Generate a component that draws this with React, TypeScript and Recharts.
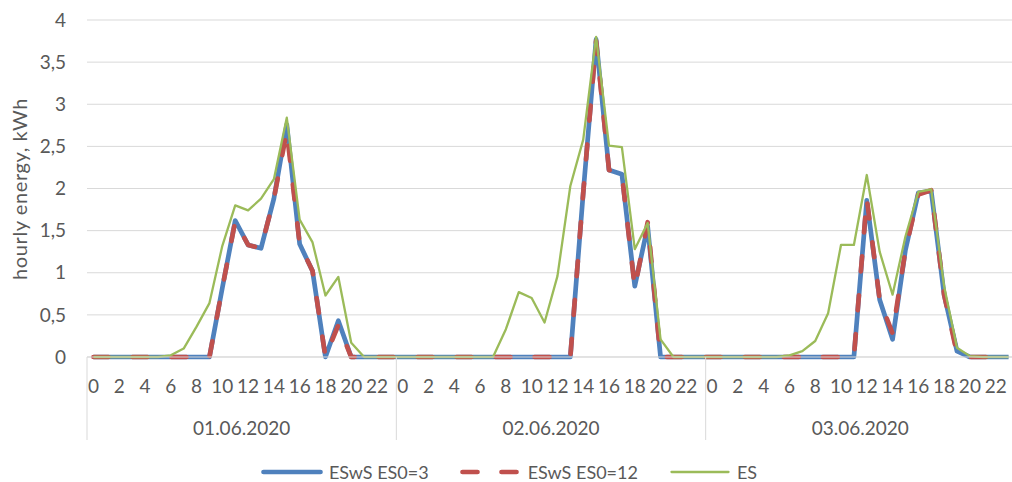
import { LineChart, Line, XAxis, YAxis, CartesianGrid, Legend } from 'recharts'

const days = ['01.06.2020', '02.06.2020', '03.06.2020']
const hours = [0, 1, 2, 3, 4, 5, 6, 7, 8, 9, 10, 11, 12, 13, 14, 15, 16, 17, 18, 19, 20, 21, 22, 23]
const yTicks = [0, 0.5, 1, 1.5, 2, 2.5, 3, 3.5, 4]

// hourly values, 24 per day
const eswsEs03 = [
  0, 0, 0, 0, 0, 0, 0, 0, 0, 0, 0.82, 1.62, 1.33, 1.29, 1.88, 2.76, 1.34, 1.02, 0, 0.43, 0, 0, 0, 0,
  0, 0, 0, 0, 0, 0, 0, 0, 0, 0, 0, 0, 0, 0, 1.95, 3.77, 2.22, 2.17, 0.84, 1.55, 0, 0, 0, 0,
  0, 0, 0, 0, 0, 0, 0, 0, 0, 0, 0, 0, 1.86, 0.68, 0.21, 1.27, 1.95, 1.97, 0.74, 0.07, 0, 0, 0, 0,
]
const eswsEs012 = [
  0, 0, 0, 0, 0, 0, 0, 0, 0, 0, 0.82, 1.61, 1.33, 1.29, 1.88, 2.68, 1.34, 1.02, 0, 0.38, 0, 0, 0, 0,
  0, 0, 0, 0, 0, 0, 0, 0, 0, 0, 0, 0, 0, 0, 1.95, 3.75, 2.22, 2.17, 0.82, 1.6, 0, 0, 0, 0,
  0, 0, 0, 0, 0, 0, 0, 0, 0, 0, 0, 0, 1.88, 0.68, 0.28, 1.27, 1.93, 1.98, 0.74, 0.04, 0, 0, 0, 0,
]
const es = [
  0, 0, 0, 0, 0, 0, 0.02, 0.1, 0.36, 0.64, 1.32, 1.8, 1.74, 1.88, 2.11, 2.84, 1.63, 1.36, 0.73, 0.95, 0.17, 0, 0, 0,
  0, 0, 0, 0, 0, 0, 0, 0, 0.33, 0.77, 0.7, 0.41, 0.96, 2.03, 2.58, 3.8, 2.51, 2.49, 1.28, 1.59, 0.21, 0, 0, 0,
  0, 0, 0, 0, 0, 0, 0.02, 0.07, 0.19, 0.52, 1.33, 1.33, 2.16, 1.25, 0.74, 1.43, 1.96, 1.99, 0.84, 0.11, 0.01, 0, 0, 0,
]

const data = days.flatMap((day, d) =>
  hours.map((hour, h) => ({
    key: `${d}-${hour}`,
    day,
    hour,
    eswsEs03: eswsEs03[d * 24 + h],
    eswsEs012: eswsEs012[d * 24 + h],
    es: es[d * 24 + h],
  }))
)

const FONT = 'Lato, "Liberation Sans", sans-serif'
const TEXT = '#595959'
const GRID = '#D9D9D9'
const CHART_W = 1015
const Y_AXIS_W = 87
const PLOT_BOTTOM = 357
// LineChart uses a point scale; pad by half a slot so points sit mid-category like Excel
const BAND = (CHART_W - Y_AXIS_W) / data.length

function HourTick(props: any) {
  const { x, index } = props
  const hour = data[index].hour
  const dayIdx = Math.floor(index / 24)
  const half = BAND / 2
  return (
    <g>
      {hour % 2 === 0 && (
        <text x={x} y={PLOT_BOTTOM + 36} textAnchor="middle" fill={TEXT} fontSize={19} fontFamily={FONT}>
          {hour}
        </text>
      )}
      {hour === 12 && (
        <text x={x - half} y={PLOT_BOTTOM + 78} textAnchor="middle" fill={TEXT} fontSize={19} fontFamily={FONT}>
          {days[dayIdx]}
        </text>
      )}
      {hour === 0 && (
        <line x1={x - half} x2={x - half} y1={PLOT_BOTTOM} y2={PLOT_BOTTOM + 83} stroke={GRID} strokeWidth={1} />
      )}
    </g>
  )
}

function YTitle() {
  return (
    <text
      x={27}
      y={189}
      transform="rotate(-90 27 189)"
      textAnchor="middle"
      fill={TEXT}
      fontSize={20}
      letterSpacing={0.6}
      fontFamily={FONT}
    >
      hourly energy, kWh
    </text>
  )
}

const legendItems = [
  { label: 'ESwS ES0=3', color: '#4F81BD', width: 4.7, dash: undefined },
  { label: 'ESwS ES0=12', color: '#C0504D', width: 4.7, dash: '15 24' },
  { label: 'ES', color: '#9BBB59', width: 2.3, dash: undefined },
]

function LegendContent() {
  return (
    <div
      style={{ display: 'flex', justifyContent: 'center', alignItems: 'center', height: 40, paddingTop: 10, paddingLeft: 6 }}
    >
      {legendItems.map((item, i) => (
        <div
          key={item.label}
          style={{ display: 'flex', alignItems: 'center', marginRight: i < legendItems.length - 1 ? 31 : 0 }}
        >
          <svg width={62} height={10} style={{ marginRight: 6 }}>
            <line
              x1={2.5}
              x2={59.5}
              y1={5}
              y2={5}
              stroke={item.color}
              strokeWidth={item.width}
              strokeDasharray={item.dash}
              strokeLinecap="round"
            />
          </svg>
          <span style={{ fontFamily: FONT, fontSize: 18, color: TEXT }}>{item.label}</span>
        </div>
      ))}
    </div>
  )
}

export default function App() {
  return (
    <div style={{ position: 'absolute', left: 0, top: 0, width: 1012, height: 482, overflow: 'hidden', background: '#fff' }}>
      <LineChart width={CHART_W} height={482} data={data} margin={{ top: 20, right: 0, bottom: 0, left: 0 }}>
        <CartesianGrid vertical={false} stroke={GRID} strokeWidth={1} />
        <XAxis
          dataKey="key"
          interval={0}
          height={85}
          padding={{ left: BAND / 2, right: BAND / 2 }}
          axisLine={{ stroke: GRID }}
          tickLine={false}
          tick={<HourTick />}
        />
        <YAxis
          width={Y_AXIS_W}
          domain={[0, 4]}
          ticks={yTicks}
          axisLine={false}
          tickLine={false}
          tickSize={0}
          tickMargin={21}
          tick={{ fill: TEXT, fontSize: 19, fontFamily: FONT }}
          tickFormatter={(v: number) => String(v).replace('.', ',')}
          label={<YTitle />}
        />
        <Legend verticalAlign="bottom" height={40} width={1012} wrapperStyle={{ left: 0 }} content={<LegendContent />} />
        <Line
          dataKey="eswsEs03"
          name="ESwS ES0=3"
          stroke="#4F81BD"
          strokeWidth={4.7}
          strokeLinejoin="round"
          dot={false}
          activeDot={false}
          isAnimationActive={false}
        />
        <Line
          dataKey="eswsEs012"
          name="ESwS ES0=12"
          stroke="#C0504D"
          strokeWidth={4.7}
          strokeDasharray="15 24"
          strokeLinecap="round"
          strokeLinejoin="round"
          dot={false}
          activeDot={false}
          isAnimationActive={false}
        />
        <Line
          dataKey="es"
          name="ES"
          stroke="#9BBB59"
          strokeWidth={2.3}
          strokeLinejoin="round"
          dot={false}
          activeDot={false}
          isAnimationActive={false}
        />
      </LineChart>
    </div>
  )
}
